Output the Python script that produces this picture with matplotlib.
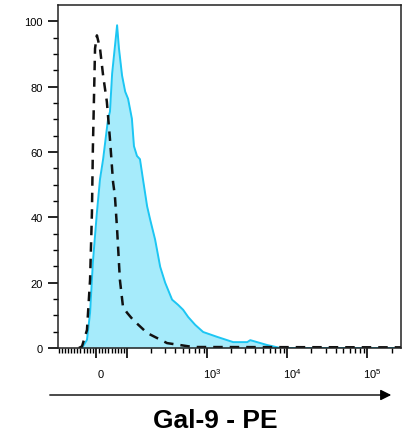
import numpy as np
import matplotlib
matplotlib.use("Agg")
import matplotlib.pyplot as plt
from matplotlib.transforms import ScaledTranslation

plt.rcParams['font.family'] = ['Liberation Sans', 'DejaVu Sans']
plt.rcParams['mathtext.fontset'] = 'custom'
plt.rcParams['mathtext.rm'] = 'Liberation Sans'

# Gal-9 stained sample (% of max)
gal9_x = [-45, -29, -19, -10, 3, 13, 23, 39, 45, 52, 68, 74, 84, 94, 103, 115, 122,
          133, 145, 158, 178, 194, 224, 259, 299, 365, 434, 501, 579, 708, 891,
          1334, 2113, 3162, 3451, 5623, 8185, 262144]
gal9_y = [0, 2.5, 10.8, 26.2, 41.5, 51.7, 57.8, 70.2, 72.3, 84, 98.8, 91.7, 83.4, 78.5,
          76.3, 70.2, 61.8, 58.8, 57.8, 51.7, 43.4, 39.4, 33.2, 24.9, 20, 14.8, 13.2,
          11.7, 9.5, 7.1, 4.9, 3.4, 1.8, 1.8, 2.4, 0.9, 0, 0]

# isotype control (% of max)
iso_x = [-55, -45, -29, -19, -13, -10, -6.5, -3, 3, 13, 23, 35, 45, 55, 61, 68, 77,
         87, 100, 119, 178, 316, 668, 262144]
iso_y = [0, 0.5, 5.5, 20.9, 41.5, 61, 76.3, 91.7, 95.7, 91.7, 83.4, 75.4, 64, 50.8,
         46.5, 36.3, 20.9, 12.6, 10.8, 8.6, 4.6, 1.5, 0.3, 0.2]

major_ticks = [0, 100, 1000, 10000, 100000]
major_labels = ['0', '', '$10^3$', '$10^4$', '$10^5$']


def fwd(x):
    x = np.asarray(x, dtype=float)
    a = np.abs(x)
    y = np.where(a < 100, a * 0.003875,
                 np.log10(np.maximum(a, 1e-9) / 100) + 0.3875)
    return np.sign(x) * y


def inv(y):
    y = np.asarray(y, dtype=float)
    a = np.abs(y)
    x = np.where(a < 0.3875, a / 0.003875, 100 * 10 ** (a - 0.3875))
    return np.sign(y) * x


fig = plt.figure(figsize=(4.06, 4.39), dpi=100)
ax = fig.add_axes([58 / 406, 1 - 349 / 439, 343 / 406, 343 / 439])
ax.set_xscale('function', functions=(fwd, inv))

ax.fill_between(gal9_x, gal9_y, 0, color='#a6ebfb', lw=0)
ax.plot(gal9_x, gal9_y, color='#1cc6f3', lw=1.4)
ax.plot(iso_x, iso_y, color='#111111', lw=1.8, linestyle=(0, (3.8, 2.8)))

ax.set_xlim(-122, 262144)
ax.set_ylim(0, 105)

minor = [-v for v in range(10, 130, 10)] + list(range(10, 100, 10))
for dec in [100, 1000, 10000, 100000]:
    minor += [k * dec for k in range(2, 10) if k * dec < 262144]
ax.set_xticks(major_ticks)
ax.set_xticklabels(major_labels)
ax.set_xticks(minor, minor=True)
ax.set_yticks(range(0, 101, 20))
ax.set_yticks(range(5, 105, 5), minor=True)

ax.tick_params(axis='both', which='major', length=7, width=1.2, labelsize=8)
ax.tick_params(axis='both', which='minor', length=3.5, width=1)
ax.tick_params(axis='x', which='major', pad=8)
ax.tick_params(axis='y', which='major', pad=4)
for lbl in ax.get_xticklabels():
    dy = 0.03 if lbl.get_text().startswith('$') else 0
    lbl.set_transform(lbl.get_transform() + ScaledTranslation(0.05, dy, fig.dpi_scale_trans))
for s in ax.spines.values():
    s.set_linewidth(1.1)
    s.set_color('#222222')

ax.annotate('', xy=(394 / 406, 1 - 396 / 439), xytext=(47 / 406, 1 - 396 / 439),
            xycoords='figure fraction', textcoords='figure fraction',
            arrowprops=dict(arrowstyle='-|>', lw=1, color='black', mutation_scale=16))
fig.text(215 / 406, 1 - 421 / 439, 'Gal-9 - PE', ha='center', va='center',
         fontsize=19, fontweight='bold')

fig.savefig('out.png', dpi=100)
